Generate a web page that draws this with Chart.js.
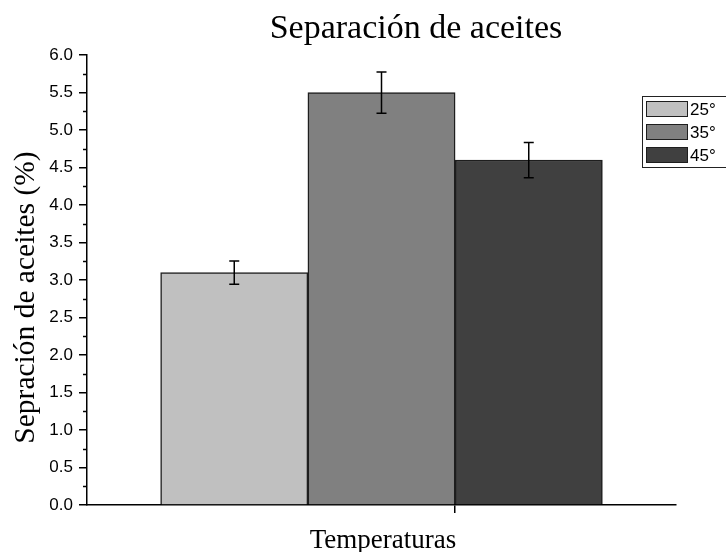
<!DOCTYPE html>
<html>
<head>
<meta charset="utf-8">
<script src="https://cdn.jsdelivr.net/npm/chart.js@4"></script>
<style>
  html, body { margin: 0; padding: 0; background: #fff; }
</style>
</head>
<body>
<canvas id="c" width="726" height="552"></canvas>
<script>
// Texts
const chartTitle = 'Separación de aceites';
const yTitle = 'Sepración de aceites (%)';
const xTitle = 'Temperaturas';

// Series: one bar per temperature, with its standard error
const temperatures = ['25°', '35°', '45°'];
const separation = [3.1, 5.5, 4.6];
const errors = [0.155, 0.275, 0.235];
const fills = ['#c0c0c0', '#808080', '#404040'];

const serif = '"Liberation Serif", "Times New Roman", serif';
const sans = '"Liberation Sans", Arial, sans-serif';

const datasets = temperatures.map((t, i) => ({
  label: t,
  data: [{ x: i + 1, y: separation[i] }],
  errors: [errors[i]],
  backgroundColor: fills[i],
  borderColor: '#1e1e1e',
  borderWidth: 1.5,
  borderSkipped: 'bottom',
  grouped: false,
  barPercentage: 1,
  categoryPercentage: 1
}));

// Error bars, minor ticks, titles and the framed legend
const extras = {
  id: 'extras',
  afterDatasetsDraw(chart) {
    const ctx = chart.ctx;
    const xs = chart.scales.x, ys = chart.scales.y;
    ctx.save();
    ctx.strokeStyle = '#000';
    ctx.lineWidth = 1.5;
    chart.data.datasets.forEach((ds) => {
      ds.data.forEach((p, pi) => {
        const e = ds.errors[pi];
        const cx = xs.getPixelForValue(p.x);
        const yTop = ys.getPixelForValue(p.y + e);
        const yBot = ys.getPixelForValue(p.y - e);
        ctx.beginPath();
        ctx.moveTo(cx, yTop); ctx.lineTo(cx, yBot);
        ctx.moveTo(cx - 5, yTop); ctx.lineTo(cx + 5, yTop);
        ctx.moveTo(cx - 5, yBot); ctx.lineTo(cx + 5, yBot);
        ctx.stroke();
      });
    });
    ctx.restore();
  },
  afterDraw(chart) {
    const ctx = chart.ctx;
    const ys = chart.scales.y;
    const area = chart.chartArea;
    ctx.save();

    // minor ticks halfway between major ticks on the y axis
    ctx.strokeStyle = '#000';
    ctx.lineWidth = 1.5;
    const t = ys.ticks;
    for (let i = 0; i < t.length - 1; i++) {
      const py = Math.round(ys.getPixelForValue((t[i].value + t[i + 1].value) / 2)) + 0.5;
      ctx.beginPath();
      ctx.moveTo(area.left - 4, py);
      ctx.lineTo(area.left, py);
      ctx.stroke();
    }

    // titles
    ctx.fillStyle = '#000';
    ctx.textBaseline = 'alphabetic';
    ctx.textAlign = 'center';
    ctx.font = '34px ' + serif;
    ctx.fillText(chartTitle, 416, 38);
    ctx.font = '27px ' + serif;
    ctx.fillText(xTitle, 383, 548);
    ctx.save();
    ctx.translate(33.5, 297.5);
    ctx.rotate(-Math.PI / 2);
    ctx.font = '29.5px ' + serif;
    ctx.fillText(yTitle, 0, 0);
    ctx.restore();

    // legend frame and entries
    const L = { left: 642, top: 96, row: 23, sw: 41, sh: 15 };
    ctx.lineWidth = 1;
    ctx.strokeStyle = '#222';
    ctx.strokeRect(L.left + 0.5, L.top + 0.5, 120, 71);
    ctx.font = '17px ' + sans;
    ctx.textAlign = 'left';
    ctx.textBaseline = 'middle';
    chart.data.datasets.forEach((ds, i) => {
      const y0 = L.top + 5 + i * L.row;
      ctx.fillStyle = ds.backgroundColor;
      ctx.fillRect(L.left + 4.5, y0 + 0.5, L.sw, L.sh);
      ctx.strokeStyle = '#1e1e1e';
      ctx.strokeRect(L.left + 4.5, y0 + 0.5, L.sw, L.sh);
      ctx.fillStyle = '#000';
      ctx.fillText(ds.label, L.left + 48, y0 + L.sh / 2 + 1.5);
    });
    ctx.restore();
  }
};

new Chart(document.getElementById('c'), {
  type: 'bar',
  data: { datasets },
  plugins: [extras],
  options: {
    responsive: false,
    animation: false,
    devicePixelRatio: 1,
    layout: { padding: { left: 0, right: 50, top: 55, bottom: 0 } },
    plugins: {
      legend: { display: false },
      title: { display: false },
      tooltip: { enabled: false }
    },
    scales: {
      x: {
        type: 'linear',
        min: 0,
        max: 4,
        offset: false,
        grid: { display: true, drawOnChartArea: false, drawTicks: true, tickLength: 8, color: '#000', lineWidth: 1.5, offset: false },
        border: { display: true, color: '#000', width: 1.5 },
        ticks: { callback: () => '' },
        afterBuildTicks: s => { s.ticks = [{ value: 2.5 }]; },
        afterFit: s => { s.height = 47; }
      },
      y: {
        min: 0,
        max: 6,
        ticks: {
          stepSize: 0.5,
          callback: v => Number(v).toFixed(1),
          font: { family: sans, size: 17 },
          color: '#000',
          padding: 6
        },
        grid: { drawOnChartArea: false, tickLength: 8, color: '#000', lineWidth: 1.5 },
        border: { color: '#000', width: 1.5 },
        afterFit: s => { s.width = 87; }
      }
    }
  }
});
</script>
</body>
</html>
